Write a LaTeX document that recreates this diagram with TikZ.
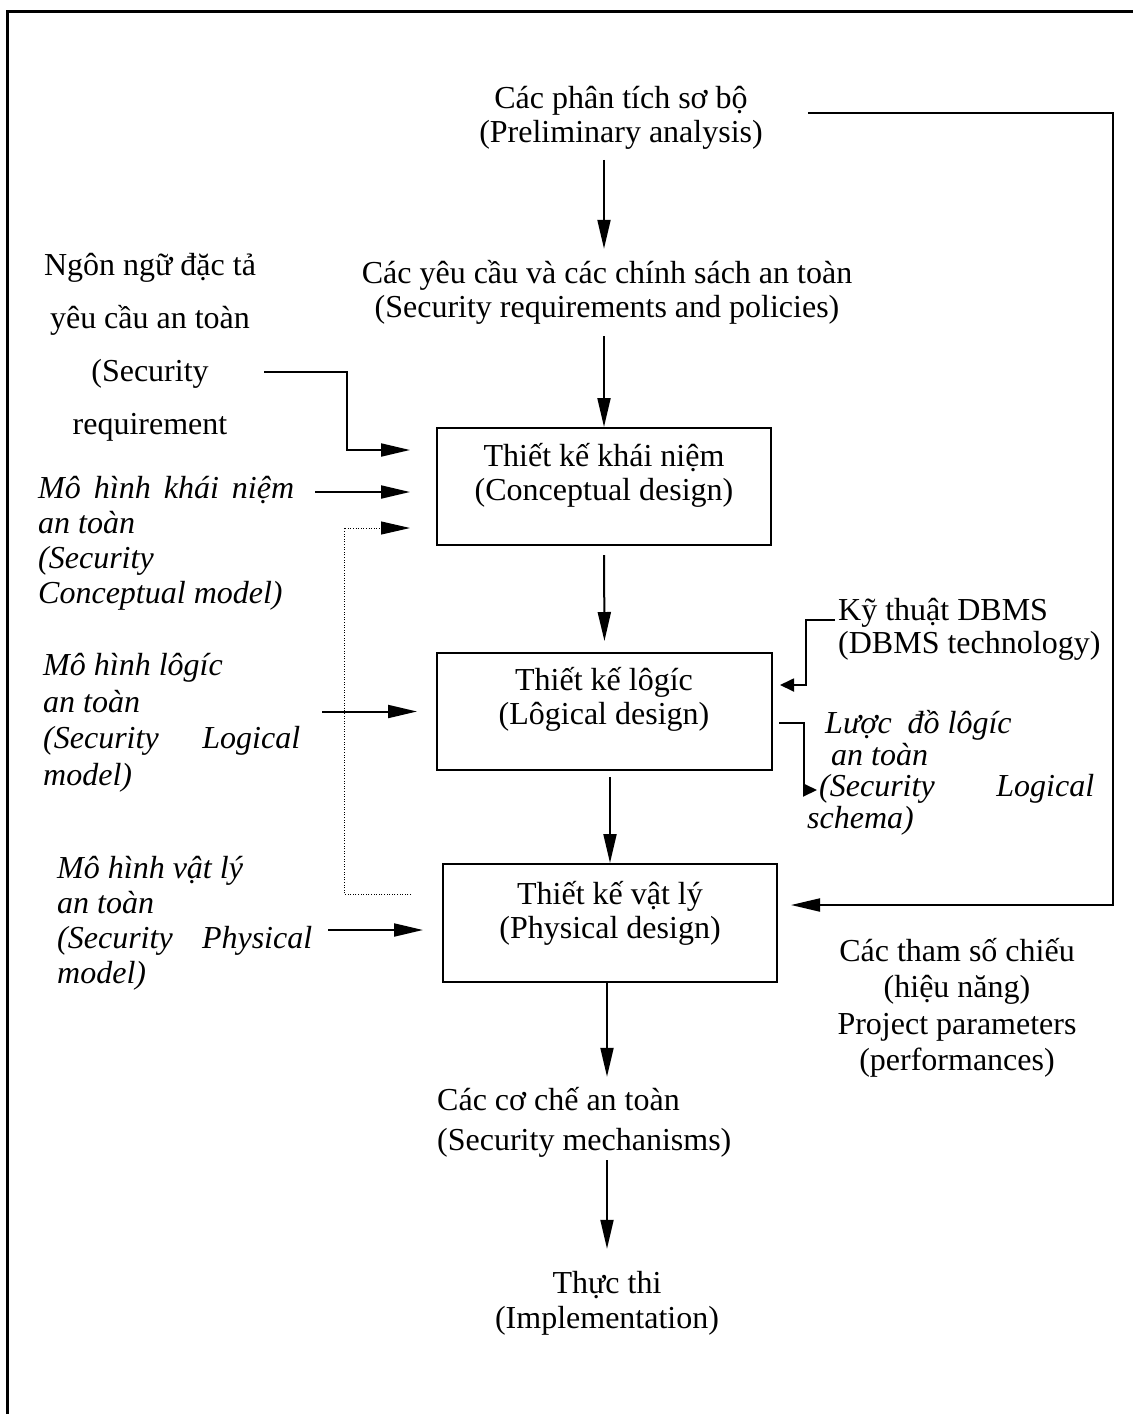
\documentclass[tikz,border=0pt]{standalone}
\usepackage{fontspec}
\setmainfont{Liberation Serif}
\usetikzlibrary{arrows.meta,calc}

\tikzset{
  txt/.style={inner sep=0pt, align=center, font=\fontsize{32}{34}\selectfont},
  ltxt/.style={inner sep=0pt, align=left, anchor=west, font=\fontsize{32}{34}\selectfont},
  itx/.style={inner sep=0pt, align=left, anchor=west, font=\fontsize{32}{36}\selectfont\itshape},
  stage/.style={draw, line width=2pt, inner sep=0pt},
  arr/.style={line width=2pt, -{Triangle[length=29pt,width=13pt]}},
  sarr/.style={line width=1.8pt, -{Triangle[length=14pt,width=13pt]}},
  dotline/.style={line width=1pt, dash pattern=on 1pt off 1.6pt, -{Triangle[length=29pt,width=13pt]}},
}

\begin{document}
\begin{tikzpicture}[x=1pt,y=1pt]
\useasboundingbox (0,0) rectangle (1133,-1414);

% outer frame (left and top edges only)
\draw[line width=3pt] (7,-1414) -- (7,-11) -- (1133,-11);

% main chain of design stages
\node[txt] (prelim) at (621,-118) {Các phân tích sơ bộ\\(Preliminary analysis)};
\node[txt] (secreq) at (607,-292) {Các yêu cầu và các chính sách an toàn\\(Security requirements and policies)};

\node[stage, minimum width=334pt, minimum height=117pt] (b1) at (604,-486.5) {};
\node[txt] (b1t) at (604,-475) {Thiết kế khái niệm\\(Conceptual design)};

\node[stage, minimum width=335pt, minimum height=117pt] (b2) at (604.5,-711.5) {};
\node[txt] (b2t) at (604,-699) {Thiết kế lôgíc\\(Lôgical design)};

\node[stage, minimum width=334pt, minimum height=118pt] (b3) at (610,-923) {};
\node[txt] (b3t) at (610,-913) {Thiết kế vật lý\\(Physical design)};

\node[ltxt, font=\fontsize{32}{40}\selectfont] (mech) at (437,-1122) {Các cơ chế an toàn\\(Security mechanisms)};
\node[txt, font=\fontsize{32}{35}\selectfont] (impl) at (607,-1303) {Thực thi\\(Implementation)};

% inputs on the left
\node[txt, font=\fontsize{32}{53}\selectfont] (lang) at (150,-347)
  {Ngôn ngữ đặc tả\\yêu cầu an toàn\\(Security\\requirement};
\node[itx, font=\fontsize{32}{35}\selectfont\itshape] (cmodel) at (38,-543)
  {\makebox[256pt][s]{Mô hình khái niệm}\\an toàn\\(Security\\Conceptual model)};
\node[itx, font=\fontsize{32}{36.5}\selectfont\itshape] (lmodel) at (43,-723)
  {Mô hình lôgíc\\an toàn\\\makebox[257pt][s]{(Security Logical}\\model)};
\node[itx, font=\fontsize{32}{35}\selectfont\itshape] (pmodel) at (57,-923)
  {Mô hình vật lý\\an toàn\\\makebox[255pt][s]{(Security Physical}\\model)};

% inputs and outputs on the right
\node[ltxt, font=\fontsize{32}{33}\selectfont] (dbms) at (838,-629) {Kỹ thuật DBMS\\(DBMS technology)};
\node[itx, font=\fontsize{32}{31.5}\selectfont\itshape] (schema) at (807,-773)
  {\hspace*{18pt}Lược\ \ đồ lôgíc\\\hspace*{24pt}an toàn\\\hspace*{12pt}\makebox[275pt][s]{(Security Logical}\\schema)};
\node[txt, font=\fontsize{32}{36.5}\selectfont] (params) at (957,-1008)
  {Các tham số chiếu\\(hiệu năng)\\Project parameters\\(performances)};

% entry points on the stage boxes
\coordinate (b1in1) at ($(b1.west)+(0,36.5)$);
\coordinate (b1in2) at ($(b1.west)+(0,-5.5)$);
\coordinate (b1in3) at ($(b1.west)+(0,-41.5)$);
\coordinate (b3out) at ($(b3.west)+(-31,29)$);
\coordinate (b3in)  at ($(b3.west)+(0,-7)$);
\coordinate (b2out) at ($(b2.east)+(0,-11.5)$);

% vertical flow
\draw[arr, shorten <=10pt, shorten >=11pt] (prelim.south -| b1.north) -- (secreq.north -| b1.north);
\draw[arr, shorten <=12pt] (secreq.south -| b1.north) -- (b1.north);
\draw[arr, shorten <=9pt, shorten >=11pt] (b1.south) -- (b2.north);
\draw[arr, shorten <=6pt] (b2.south -| b3.north) -- (b3.north);
\draw[arr, shorten >=10pt] (b3.south -| impl.north) -- (mech.north -| impl.north);
\draw[arr, shorten <=3pt, shorten >=22pt] (mech.south -| impl.north) -- (impl.north);

% feedback from the preliminary analysis to physical design
\draw[arr, shorten <=45pt, shorten >=13pt] ($(prelim.east)+(0,5)$) -- ++(350,0) |- ($(b3.east)+(0,18)$);

% left-hand inputs
\draw[arr, shorten <=8pt, shorten >=26pt] ($(lang.east)+(0,-25)$) -| ($(b1in1)+(-89,0)$) -- (b1in1);
\draw[arr, shorten <=21pt, shorten >=26pt] (cmodel.east |- b1in2) -- (b1in2);
\draw[dotline, shorten >=26pt] (b3out) -- ++(-67,0) |- (b1in3);
\draw[arr, shorten <=22pt, shorten >=19pt] (lmodel.east |- b2.west) -- (b2.west);
\draw[arr, shorten <=16pt, shorten >=19pt] (pmodel.east |- b3in) -- (b3in);

% right-hand connectors
\draw[sarr, shorten <=3pt, shorten >=7pt] ($(dbms.west)+(0,9)$) -| ($(b2.east)+(33,26.5)$) -- ($(b2.east)+(0,26.5)$);
\draw[sarr, shorten <=6pt] (b2out) -- ++(31,0) |- ($(schema.west)+(10,-17)$);
\end{tikzpicture}
\end{document}
